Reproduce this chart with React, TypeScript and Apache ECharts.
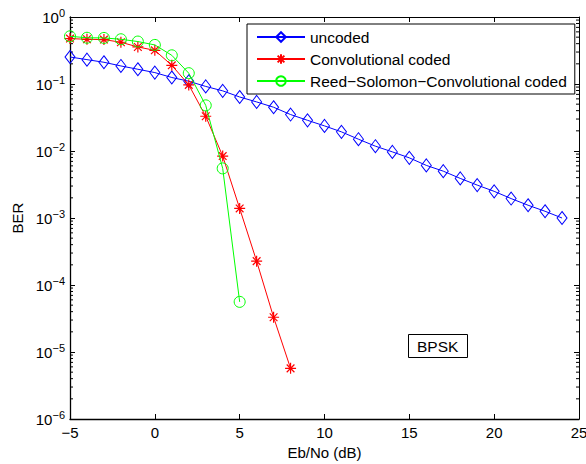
import React, { useEffect, useRef } from "react";
import * as echarts from "echarts";

const snrUncoded = [-5, -4, -3, -2, -1, 0, 1, 2, 3, 4, 5, 6, 7, 8, 9, 10, 11, 12, 13, 14, 15, 16, 17, 18, 19, 20, 21, 22, 23, 24];
const berUncoded = [0.253, 0.231, 0.211, 0.186, 0.166, 0.148, 0.125, 0.11, 0.092, 0.079, 0.064, 0.054, 0.045, 0.035, 0.0287, 0.0237, 0.0193, 0.015, 0.0118, 0.0097, 0.0079, 0.0061, 0.005, 0.0039, 0.0031, 0.0025, 0.00195, 0.00155, 0.00126, 0.001];

const snrConv = [-5, -4, -3, -2, -1, 0, 1, 2, 3, 4, 5, 6, 7, 8];
const berConv = [0.476, 0.465, 0.46, 0.42, 0.357, 0.318, 0.19, 0.097, 0.033, 0.0084, 0.00139, 2.27e-4, 3.3e-5, 5.7e-6];

const snrRS = [-5, -4, -3, -2, -1, 0, 1, 2, 3, 4, 5];
const berRS = [0.515, 0.49, 0.487, 0.465, 0.43, 0.383, 0.268, 0.145, 0.048, 0.0055, 5.6e-5];

const seriesNames = ["uncoded", "Convolutional coded", "Reed\u2212Solomon\u2212Convolutional coded"];
const xMin = -5;
const xMax = 25;
const xStep = 5;
const yMin = 1e-6;
const yMax = 1;
const annotation = "BPSK";
const xName = "Eb/No (dB)";
const yName = "BER";

const FONT = "'Liberation Sans', Arial, Helvetica, sans-serif";
const ASTERISK = "path://M5,0L5,10M0,5L10,5M1.5,1.5L8.5,8.5M1.5,8.5L8.5,1.5";

export default function App() {
  const ref = useRef<HTMLDivElement>(null);
  useEffect(() => {
    if (!ref.current) return;
    const chart = echarts.init(ref.current, undefined, { renderer: "svg" });

    const minorTickValues: number[] = [];
    for (let e = -6; e < 0; e++) {
      for (let k = 2; k <= 9; k++) minorTickValues.push(k * Math.pow(10, e));
    }

    const pairs = (xs: number[], ys: number[]) => xs.map((x, i) => [x, ys[i]]);
    const minus = (s: string) => s.replace("-", "\u2212");

    const option: any = {
      animation: false,
      backgroundColor: "#fff",
      textStyle: { fontFamily: FONT },
      title: {
        text: annotation,
        left: 408,
        top: 334,
        padding: [3, 9, 3, 9],
        backgroundColor: "#fff",
        borderColor: "#000",
        borderWidth: 1,
        textStyle: { fontSize: 15.5, fontWeight: "normal", color: "#000", fontFamily: FONT, lineHeight: 18 },
        z: 10,
      },
      grid: { left: 70, right: 7, top: 17, bottom: 45, containLabel: false, outerBoundsMode: "none" },
      xAxis: [
        {
          type: "value",
          min: xMin,
          max: xMax,
          interval: xStep,
          name: xName,
          nameLocation: "middle",
          nameGap: 21,
          nameTextStyle: { fontSize: 15, color: "#000", fontFamily: FONT },
          axisLine: { show: true, onZero: false, lineStyle: { color: "#000", width: 1.3 } },
          axisTick: { show: true, inside: true, length: 5, lineStyle: { color: "#000" } },
          axisLabel: {
            fontSize: 15,
            color: "#000",
            margin: 6,
            fontFamily: FONT,
            formatter: (v: number) => minus(String(v)),
          },
          splitLine: { show: false },
        },
        {
          type: "value",
          position: "top",
          min: xMin,
          max: xMax,
          interval: xStep,
          axisLine: { show: true, onZero: false, lineStyle: { color: "#000", width: 1 } },
          axisTick: { show: true, inside: true, length: 5, lineStyle: { color: "#000" } },
          axisLabel: { show: false },
          splitLine: { show: false },
        },
      ],
      yAxis: [
        {
          type: "log",
          logBase: 10,
          min: yMin,
          max: yMax,
          interval: 1,
          name: yName,
          nameLocation: "middle",
          nameGap: 43,
          nameTextStyle: { fontSize: 15, color: "#000", fontFamily: FONT },
          axisLine: { show: true, onZero: false, lineStyle: { color: "#000", width: 1.3 } },
          axisTick: { show: true, inside: true, length: 5, lineStyle: { color: "#000" } },
          axisLabel: {
            color: "#000",
            margin: 5,
            fontFamily: FONT,
            formatter: (v: number) => {
              const e = Math.round(Math.log10(v));
              return `{b|10}{s|${minus(String(e))}}`;
            },
            rich: {
              b: { fontSize: 15, color: "#000", fontFamily: FONT },
              s: { fontSize: 11, color: "#000", fontFamily: FONT, padding: [0, 0, 9, 0] },
            },
          },
          splitLine: { show: false },
        },
        {
          type: "log",
          logBase: 10,
          position: "right",
          min: yMin,
          max: yMax,
          interval: 1,
          axisLine: { show: true, onZero: false, lineStyle: { color: "#000", width: 1 } },
          axisTick: { show: true, inside: true, length: 5, lineStyle: { color: "#000" } },
          axisLabel: { show: false },
          splitLine: { show: false },
        },
      ],
      legend: {
        data: seriesNames,
        orient: "vertical",
        left: 247,
        top: 24,
        padding: [5, 8, 5, 9],
        itemGap: 6,
        itemWidth: 48,
        itemHeight: 12,
        backgroundColor: "#fff",
        borderColor: "#000",
        borderWidth: 1,
        borderRadius: 0,
        textStyle: { fontSize: 15.5, color: "#000", fontFamily: FONT },
      },
      series: [
        {
          name: seriesNames[0],
          type: "line",
          data: pairs(snrUncoded, berUncoded),
          symbol: "diamond",
          symbolSize: [10, 13],
          lineStyle: { color: "#0000ff", width: 1 },
          itemStyle: { color: "rgba(255,255,255,0)", borderColor: "#0000ff", borderWidth: 1 },
          z: 3,
        },
        {
          name: seriesNames[1],
          type: "line",
          data: pairs(snrConv, berConv),
          symbol: ASTERISK,
          symbolSize: 11,
          lineStyle: { color: "#ff0000", width: 1 },
          itemStyle: { color: "rgba(255,255,255,0)", borderColor: "#ff0000", borderWidth: 1.2 },
          z: 4,
        },
        {
          name: seriesNames[2],
          type: "line",
          data: pairs(snrRS, berRS),
          symbol: "circle",
          symbolSize: 11,
          lineStyle: { color: "#00ff00", width: 1 },
          itemStyle: { color: "rgba(255,255,255,0)", borderColor: "#00ff00", borderWidth: 1 },
          z: 5,
        },
        {
          name: "minorTicks",
          type: "custom",
          silent: true,
          xAxisIndex: 0,
          yAxisIndex: 0,
          data: minorTickValues.map((v) => [xMin, v]),
          renderItem: (params: any, api: any) => {
            const pt = api.coord([xMin, api.value(1)]);
            const cs = params.coordSys;
            const y = pt[1];
            return {
              type: "group",
              children: [
                { type: "line", shape: { x1: cs.x, y1: y, x2: cs.x + 3, y2: y }, style: { stroke: "#000", lineWidth: 1 } },
                {
                  type: "line",
                  shape: { x1: cs.x + cs.width - 3, y1: y, x2: cs.x + cs.width, y2: y },
                  style: { stroke: "#000", lineWidth: 1 },
                },
              ],
            };
          },
        },
      ],
    };
    chart.setOption(option);
    return () => chart.dispose();
  }, []);
  return <div ref={ref} style={{ position: "fixed", left: 0, top: 0, width: 586, height: 464 }} />;
}
